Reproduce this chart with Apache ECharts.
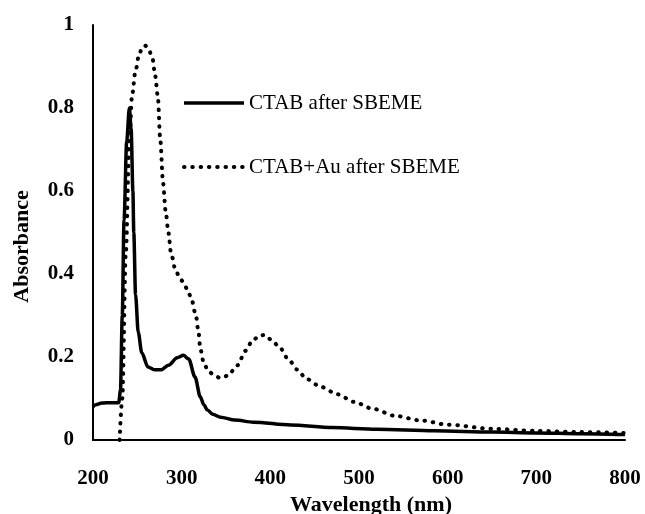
<!DOCTYPE html>
<html>
<head>
<meta charset="utf-8">
<script src="https://cdn.jsdelivr.net/npm/echarts@6/dist/echarts.min.js"></script>
<style>
  html, body { margin: 0; padding: 0; background: #fff; }
  #chart { width: 645px; height: 514px; }
</style>
</head>
<body>
<div id="chart"></div>
<script>
  // CTAB after SBEME
  const ctabWl = [200, 203, 210, 220, 229, 231, 233, 235, 238, 241, 243, 245, 246, 248, 251, 255, 262, 270, 277, 285, 295, 302, 308, 315, 321, 325, 329, 335, 344, 360, 381, 423, 470, 520, 585, 650, 700, 750, 800];
  const ctabAbs = [0.08, 0.085, 0.089, 0.09, 0.09, 0.12, 0.3, 0.53, 0.72, 0.8, 0.75, 0.6, 0.5, 0.35, 0.26, 0.21, 0.176, 0.169, 0.169, 0.18, 0.198, 0.204, 0.195, 0.152, 0.104, 0.085, 0.072, 0.062, 0.055, 0.048, 0.043, 0.036, 0.03, 0.026, 0.022, 0.019, 0.017, 0.015, 0.013];

  // CTAB+Au after SBEME
  const auWl = [230, 233, 237, 241, 244, 248, 252, 256, 259, 263, 267, 270, 273, 276, 279, 282, 285, 288, 293, 298, 302, 307, 311, 316, 319, 321, 325, 330, 337, 344, 352, 363, 372, 380, 388, 394, 402, 410, 421, 430, 441, 457, 476, 494, 516, 541, 570, 600, 650, 700, 750, 800];
  const auAbs = [0, 0.1, 0.45, 0.72, 0.83, 0.89, 0.93, 0.948, 0.95, 0.94, 0.92, 0.88, 0.83, 0.72, 0.62, 0.55, 0.5, 0.45, 0.41, 0.39, 0.38, 0.36, 0.34, 0.3, 0.26, 0.22, 0.185, 0.166, 0.155, 0.149, 0.155, 0.18, 0.215, 0.24, 0.252, 0.253, 0.24, 0.224, 0.193, 0.17, 0.147, 0.128, 0.11, 0.092, 0.075, 0.058, 0.047, 0.037, 0.027, 0.022, 0.019, 0.017];

  const seriesNames = ['CTAB after SBEME', 'CTAB+Au after SBEME'];
  const xTicks = {min: 200, max: 800, interval: 100};
  const yTicks = {min: 0, max: 1, interval: 0.2};

  const pairs = (xs, ys) => xs.map((x, i) => [x, ys[i]]);
  const serif = '"Liberation Serif", "Times New Roman", serif';
  const solidStyle = {color: '#000', width: 3.5};
  const dotStyle = {color: '#000', width: 4, type: [0.5, 7.8], cap: 'round'};

  const myChart = echarts.init(document.getElementById('chart'));
  myChart.setOption({
    animation: false,
    grid: {left: 93, right: 20, top: 25, bottom: 74, containLabel: false, outerBoundsMode: 'none'},
    legend: {
      orient: 'vertical',
      left: 182,
      top: 92,
      padding: 0,
      itemWidth: 60,
      itemHeight: 14,
      itemGap: 42,
      itemStyle: {color: 'rgba(0,0,0,0)', borderWidth: 0},
      textStyle: {color: '#000', fontFamily: serif, fontSize: 21, lineHeight: 22},
      data: [
        {name: seriesNames[0], lineStyle: solidStyle},
        {name: seriesNames[1], lineStyle: dotStyle}
      ]
    },
    xAxis: {
      type: 'value',
      min: xTicks.min,
      max: xTicks.max,
      interval: xTicks.interval,
      name: 'Wavelength (nm)',
      nameLocation: 'middle',
      nameGap: 52,
      nameTextStyle: {color: '#000', fontFamily: serif, fontWeight: 'bold', fontSize: 22, padding: [0, 0, 0, 24]},
      axisLine: {lineStyle: {color: '#000', width: 2}},
      axisTick: {show: false},
      splitLine: {show: false},
      axisLabel: {color: '#000', fontFamily: serif, fontWeight: 'bold', fontSize: 21, margin: 28}
    },
    yAxis: {
      type: 'value',
      min: yTicks.min,
      max: yTicks.max,
      interval: yTicks.interval,
      name: 'Absorbance',
      nameLocation: 'middle',
      nameGap: 60,
      nameTextStyle: {color: '#000', fontFamily: serif, fontWeight: 'bold', fontSize: 22, padding: [0, 28, 0, 0]},
      axisLine: {show: true, lineStyle: {color: '#000', width: 2}},
      axisTick: {show: false},
      splitLine: {show: false},
      axisLabel: {color: '#000', fontFamily: serif, fontWeight: 'bold', fontSize: 21, margin: 19}
    },
    series: [
      {
        name: seriesNames[1],
        type: 'line',
        symbol: 'none',
        smooth: 0.3,
        smoothMonotone: 'x',
        data: pairs(auWl, auAbs),
        lineStyle: dotStyle,
        itemStyle: {color: '#000'}
      },
      {
        name: seriesNames[0],
        type: 'line',
        symbol: 'none',
        smooth: 0.3,
        smoothMonotone: 'x',
        data: pairs(ctabWl, ctabAbs),
        lineStyle: solidStyle,
        itemStyle: {color: '#000'}
      }
    ]
  });
</script>
</body>
</html>
